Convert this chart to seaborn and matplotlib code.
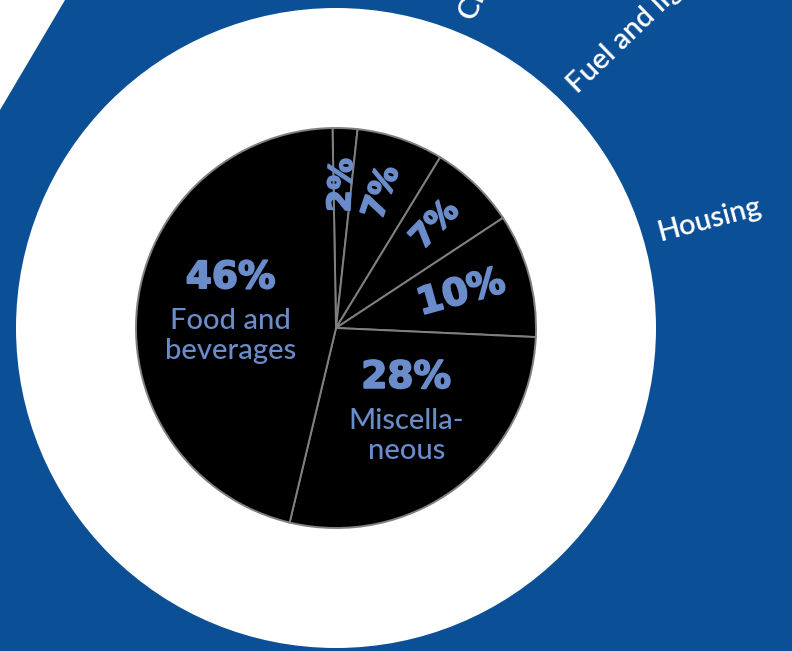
import matplotlib
matplotlib.use("Agg")
import matplotlib.pyplot as plt
import matplotlib.patheffects as pe
import seaborn as sns
import numpy as np
from matplotlib.patches import Circle, Polygon

# Consumer price index basket weights
categories = ["Pan, tobacco and intoxicants", "Clothing and footwear",
              "Fuel and light", "Housing", "Miscellaneous", "Food and beverages"]
weights = [2, 7, 7, 10, 28, 46]
pct_labels = ["2%", "7%", "7%", "10%", "28%", "46%"]
inner_names = {"Miscellaneous": "Miscella-\nneous",
               "Food and beverages": "Food and\nbeverages"}
outer_labelled = ["Clothing and footwear", "Fuel and light", "Housing"]
# small angular nudges (degrees) for the outer radial labels
outer_nudge = {"Clothing and footwear": -5.5, "Fuel and light": -2.0,
               "Housing": -0.5}

W, H = 792, 651
BLUE = "#0b4f96"
LABEL = "#6b8cca"
PCT_FAMILY = ["DejaVu Sans"]
# thicken the bold percentages a little
HEAVY = [pe.withStroke(linewidth=1.3, foreground=LABEL)]

sns.set_theme(style="white")
plt.rcParams["font.family"] = ["Lato", "DejaVu Sans"]

fig = plt.figure(figsize=(W / 100, H / 100), dpi=100, facecolor=BLUE)
ax = fig.add_axes([0, 0, 1, 1])
ax.set_facecolor(BLUE)

cx, cy = 336, H - 328
ring_r = 320
pie_r = 200

# white band in the top-left corner and the white disc behind the pie
ax.add_patch(Polygon([(0, H), (65, H), (0, H - 110)], closed=True,
                     facecolor="white", lw=0))
ax.add_patch(Circle((cx, cy), ring_r, facecolor="white", lw=0))

slice_colors = sns.color_palette(["#000000"], n_colors=len(weights))
wedges, _ = ax.pie(weights, colors=slice_colors, startangle=91,
                   counterclock=False, center=(cx, cy), radius=pie_r,
                   wedgeprops=dict(edgecolor="#808080", linewidth=1.4))

for w, name, val, pct in zip(wedges, categories, weights, pct_labels):
    mid = (w.theta1 + w.theta2) / 2.0
    rad = np.deg2rad(mid)
    if name in inner_names:
        r = 110
        bx = cx + r * np.cos(rad)
        by = cy + r * np.sin(rad)
        ax.text(bx + 4, by + 38, pct, ha="center", va="center", color=LABEL,
                fontsize=27, fontweight="bold", family=PCT_FAMILY,
                path_effects=HEAVY)
        ax.text(bx + 4, by - 20, inner_names[name], ha="center", va="center",
                color=LABEL, fontsize=21, fontweight="medium",
                linespacing=1.2, multialignment="center")
    else:
        r = 130 if val >= 10 else 143
        tx = cx + r * np.cos(rad)
        ty = cy + r * np.sin(rad)
        ax.text(tx, ty, pct, ha="center", va="center", rotation=mid,
                rotation_mode="anchor", color=LABEL,
                fontsize=27 if val >= 10 else 23, fontweight="bold",
                family=PCT_FAMILY, path_effects=HEAVY)
    if name in outer_labelled:
        r = 336
        a = mid + outer_nudge.get(name, 0.0)
        ox = cx + r * np.cos(np.deg2rad(a))
        oy = cy + r * np.sin(np.deg2rad(a))
        ax.text(ox, oy, name, ha="left", va="baseline", rotation=a,
                rotation_mode="anchor", color="white", fontsize=21,
                fontweight="semibold")

ax.set_xlim(0, W)
ax.set_ylim(0, H)
ax.set_aspect("equal")
ax.axis("off")

fig.savefig("out.png", dpi=100, facecolor=BLUE)
